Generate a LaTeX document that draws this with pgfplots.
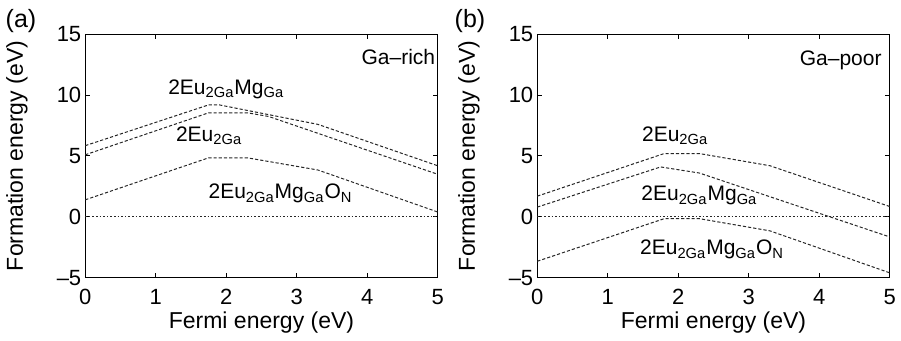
\documentclass[border=0pt]{standalone}
\usepackage{fontspec}
\setmainfont{Liberation Sans}
\usepackage{pgfplots}
\pgfplotsset{compat=1.18}
\pgfplotsset{
  fe/.style={
    width=176.2pt, height=121.7pt, scale only axis,
    xmin=0, xmax=5, ymin=-5, ymax=15,
    xtick={0,1,2,3,4,5}, ytick={-5,0,5,10,15},
    xticklabels={0,1,2,3,4,5},
    yticklabels={\textendash5,0,5,10,15},
    tick align=inside, major tick length=2.5pt,
    axis line style={line width=0.7pt},
    every tick/.style={line width=0.5pt, black},
    tick label style={font=\fontsize{11}{13}\selectfont},
    xticklabel style={yshift=-2.3pt},
    yticklabel style={xshift=1.5pt},
    label style={font=\fontsize{11.5}{13}\selectfont, inner sep=0pt},
    xlabel={Fermi energy (eV)}, ylabel={Formation energy (eV)},
    xlabel style={at={(axis description cs:0.5,-0.183)}, anchor=center},
    ylabel style={at={(axis description cs:-0.194,0.5)}, anchor=center},
    clip=false,
  },
}
\tikzset{
  ln/.style={black!85, line width=0.5pt, dash pattern=on 1.6pt off 1pt},
  zl/.style={black!85, line width=0.5pt, dash pattern=on 0.8pt off 1pt},
  ann/.style={font=\fontsize{10.5}{12}\selectfont, anchor=base, inner sep=0pt},
}
\begin{document}
\begin{tikzpicture}
\begin{axis}[fe, at={(0pt,0pt)}, anchor=south west]
  \addplot[ln] coordinates {(0,5.85) (1.75,9.2) (1.9,9.2) (3.3,7.6) (5,4.2)};
  \addplot[ln] coordinates {(0,5.1) (1.75,8.55) (2.3,8.55) (2.6,8.25) (5,3.5)};
  \addplot[ln] coordinates {(0,1.4) (1.75,4.85) (2.3,4.85) (3.3,3.85) (5,0.4)};
  \addplot[zl] coordinates {(0,0) (5,0)};
  \node[ann, anchor=base east] at (axis cs:4.97,12.49) {Ga–rich};
  \node[ann] at (axis cs:2.0,10.08) {2Eu\textsubscript{2Ga}Mg\textsubscript{Ga}};
  \node[ann] at (axis cs:1.757,6.19) {2Eu\textsubscript{2Ga}};
  \node[ann] at (axis cs:2.77,1.48) {2Eu\textsubscript{2Ga}Mg\textsubscript{Ga}O\textsubscript{N}};
  \node[font=\fontsize{12.5}{14}\selectfont] at (axis description cs:-0.1825,1.0547) {(a)};
\end{axis}
\begin{axis}[fe, at={(226pt,0pt)}, anchor=south west]
  \addplot[ln] coordinates {(0,1.7) (1.8,5.2) (2.3,5.2) (3.3,4.2) (5,0.85)};
  \addplot[ln] coordinates {(0,0.8) (1.75,4.1) (2.3,3.6) (5,-1.65)};
  \addplot[ln] coordinates {(0,-3.65) (1.8,-0.15) (2.3,-0.15) (3.3,-1.15) (5,-4.6)};
  \addplot[zl] coordinates {(0,0) (5,0)};
  \node[ann, anchor=base east] at (axis cs:4.89,12.43) {Ga–poor};
  \node[ann] at (axis cs:1.956,6.19) {2Eu\textsubscript{2Ga}};
  \node[ann] at (axis cs:2.30,1.31) {2Eu\textsubscript{2Ga}Mg\textsubscript{Ga}};
  \node[ann] at (axis cs:2.48,-3.12) {2Eu\textsubscript{2Ga}Mg\textsubscript{Ga}O\textsubscript{N}};
  \node[font=\fontsize{12.5}{14}\selectfont] at (axis description cs:-0.191,1.0547) {(b)};
\end{axis}
\pgfresetboundingbox
\path[use as bounding box] (-42.65pt,-31.65pt) rectangle (407.85pt,138.85pt);
\end{tikzpicture}
\end{document}
